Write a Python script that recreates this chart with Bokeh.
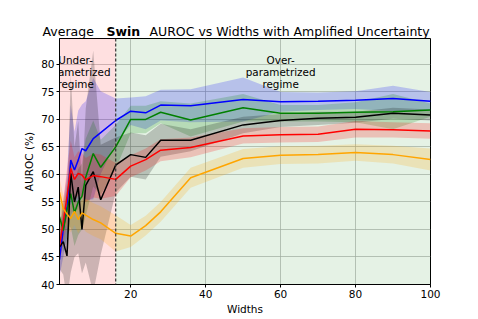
from bokeh.plotting import figure
from bokeh.models import BoxAnnotation, Span, Label, Range1d
from bokeh.embed import file_html
from bokeh.resources import INLINE
import numpy as np

widths = [1, 2, 3, 4, 5, 6, 7, 8, 10, 12, 16, 20, 24, 28, 36, 50, 60, 70, 80, 90, 100]

blue_mean = [44.5, 50.0, 54.0, 62.6, 60.8, 62.6, 64.7, 64.3, 66.5, 67.6, 69.8, 71.5, 71.2, 72.6, 72.5, 73.6, 73.2, 73.3, 73.5, 73.8, 73.3]
blue_std = [3, 5, 6, 10, 7, 9, 8, 9, 11, 7.5, 4, 2.5, 3, 2.8, 3, 4, 1.8, 1.6, 1.6, 2.3, 1.7]

green_mean = [52.3, 49.8, 53.5, 56.5, 53.0, 55.0, 56.0, 59.5, 63.8, 61.3, 65.0, 70.0, 70.0, 71.3, 69.9, 72.1, 71.1, 71.1, 71.3, 71.4, 71.7]
green_std = [3, 4, 5, 6, 6, 6, 6, 7, 6, 5, 4, 2.5, 2.5, 2, 3, 2.5, 1.5, 1.5, 1.8, 3.2, 1.2]

black_mean = [46.8, 47.8, 45.2, 60.2, 55.0, 57.7, 50.0, 58.0, 60.5, 55.4, 61.7, 63.6, 63.1, 66.2, 66.2, 69.0, 69.8, 70.2, 70.4, 71.1, 70.8]
black_std = [4, 6, 8, 18, 10, 12, 8, 14, 22, 10, 5, 4, 4, 3, 2, 1.5, 1.2, 1.2, 1.0, 1.0, 1.0]

red_mean = [47.1, 51.3, 56.0, 61.1, 59.1, 60.2, 59.9, 59.0, 59.8, 59.6, 59.1, 61.5, 62.7, 64.4, 64.9, 67.0, 67.2, 67.3, 68.2, 68.1, 67.9]
red_std = [3, 4, 5, 5, 4, 4, 4, 4, 4, 4, 3, 2, 2, 2, 1.8, 1.4, 1.4, 1.4, 1.5, 1.4, 1.4]

orange_mean = [56.8, 53.8, 52.8, 52.0, 53.3, 51.8, 53.0, 52.6, 51.8, 51.2, 49.3, 48.8, 50.7, 53.2, 59.4, 62.9, 63.5, 63.6, 64.0, 63.6, 62.7]
orange_std = [2.5, 2.5, 2.5, 2.5, 2.5, 2.5, 2.5, 3, 3, 3, 3.3, 2, 1.8, 1.8, 1.8, 1.7, 1.6, 1.6, 1.5, 1.6, 2]

series = [
    ("blue", blue_mean, blue_std),
    ("green", green_mean, green_std),
    ("black", black_mean, black_std),
    ("red", red_mean, red_std),
    ("orange", orange_mean, orange_std),
]

x_ticks = [20, 40, 60, 80, 100]
y_ticks = [40, 45, 50, 55, 60, 65, 70, 75, 80]
boundary = 16

FONT = "DejaVu Sans"
NBSP = "\u00a0"

p = figure(width=478, height=319, output_backend="svg", toolbar_location=None,
           x_range=Range1d(1, 100), y_range=Range1d(40, 84.7),
           min_border_left=59, min_border_right=48, min_border_top=38, min_border_bottom=35)
p.title = None
p.background_fill_color = "white"
p.border_fill_color = "white"
p.outline_line_color = "black"
p.outline_line_width = 1

# regime backgrounds
p.add_layout(BoxAnnotation(right=boundary, fill_color="#ff0000", fill_alpha=0.12,
                           line_alpha=0, level="underlay"))
p.add_layout(BoxAnnotation(left=boundary, fill_color="#008000", fill_alpha=0.1,
                           line_alpha=0, level="underlay"))

for color, m, s in series:
    m = np.array(m)
    s = np.array(s)
    p.varea(x=widths, y1=m - s, y2=m + s, fill_color=color, fill_alpha=0.2)

for color, m, s in series:
    p.line(widths, m, line_color=color, line_width=1.5)

p.add_layout(Span(location=boundary, dimension="height", line_color="#333333",
                  line_dash="3 2", line_width=1.2))

# axes
p.xaxis.ticker = x_ticks
p.yaxis.ticker = y_ticks
p.xgrid.ticker = x_ticks
p.ygrid.ticker = y_ticks
for ax in (p.xaxis[0], p.yaxis[0]):
    ax.major_label_text_font = FONT
    ax.major_label_text_font_size = "10.5px"
    ax.major_label_text_color = "black"
    ax.axis_line_color = "black"
    ax.major_tick_line_color = "black"
    ax.major_tick_out = 3
    ax.major_tick_in = 0
    ax.minor_tick_out = 0
    ax.minor_tick_in = 0
    ax.major_label_standoff = 2
    ax.axis_label_text_font = FONT
    ax.axis_label_text_font_size = "10.5px"
    ax.axis_label_text_font_style = "normal"
    ax.axis_label_text_color = "black"
p.yaxis.axis_label = "AUROC (%)"
p.yaxis.axis_label_standoff = 3
p.xaxis.axis_label = "Widths"
p.xaxis.axis_label_standoff = 2

p.grid.grid_line_color = "#b0b0b0"
p.grid.grid_line_alpha = 0.7
p.grid.grid_line_width = 1

# title: regular part (with a gap for the bold word) and the bold word
title_regular = "Average" + NBSP * 14 + "AUROC vs Widths with Amplified Uncertainty"
title_bold = "Swin"
p.add_layout(Label(x=-17, y=7, x_units="screen", y_units="screen", text=title_regular,
                   text_align="left", text_baseline="middle", text_font=FONT,
                   text_font_size="12.5px", text_color="black"), "above")
p.add_layout(Label(x=47, y=-8, x_units="screen", y_units="screen", text=title_bold,
                   text_align="left", text_baseline="middle", text_font=FONT,
                   text_font_size="12.5px", text_font_style="bold", text_color="black"),
             "above")

# regime annotations
under_lines = ["Under-", "parametrized", "regime"]
over_lines = ["Over-", "parametrized", "regime"]
line_y = [80.83, 78.58, 76.47]
for txt, yy in zip(under_lines, line_y):
    p.add_layout(Label(x=5.3, y=yy, text=txt, text_align="center", text_baseline="middle",
                       text_font=FONT, text_font_size="10.4px", text_color="black",
                       level="overlay"))
for txt, yy in zip(over_lines, line_y):
    p.add_layout(Label(x=60, y=yy, text=txt, text_align="center", text_baseline="middle",
                       text_font=FONT, text_font_size="10.4px", text_color="black",
                       level="overlay"))

open("out.html", "w").write(file_html(p, INLINE))
